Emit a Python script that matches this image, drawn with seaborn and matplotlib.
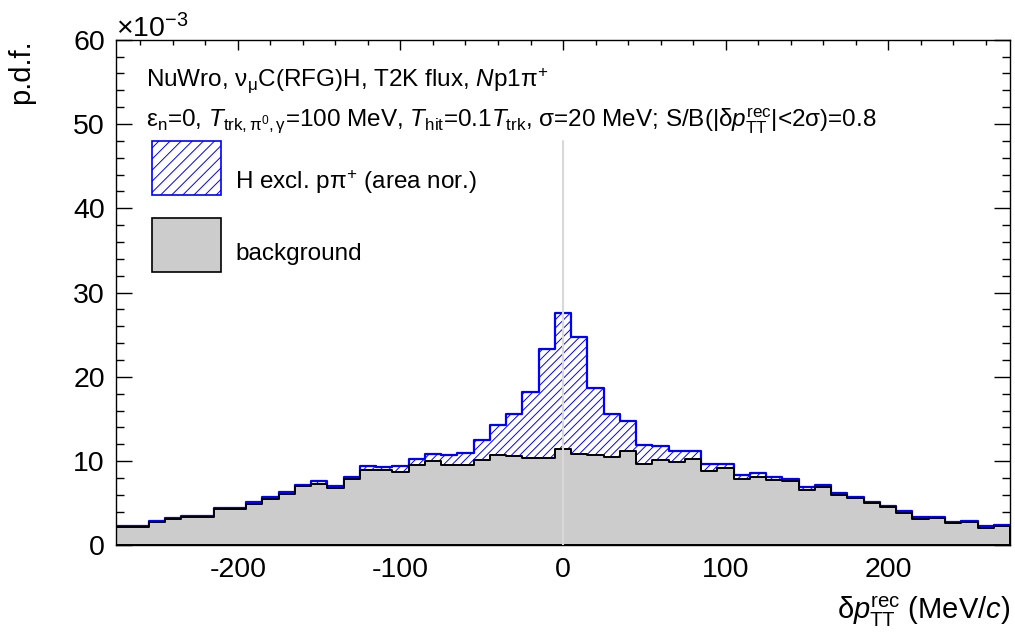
import numpy as np
import pandas as pd
import seaborn as sns
import matplotlib.pyplot as plt
from matplotlib.patches import Rectangle
from matplotlib.ticker import MultipleLocator

# bin centres of delta p_TT^rec (MeV/c), 10 MeV/c bins from -275 to 275
centers = np.arange(-270, 271, 10)

# p.d.f. values in units of 1e-3
bkg = [2.17, 2.17, 2.80, 3.10, 3.36, 3.36, 4.30, 4.30, 4.94, 5.57,
       6.13, 7.04, 7.35, 6.84, 7.87, 8.90, 8.90, 8.77, 9.50, 10.04,
       9.57, 9.57, 10.10, 10.75, 10.67, 10.43, 10.43, 11.46, 10.90, 10.75,
       10.55, 11.20, 9.72, 10.15, 9.88, 10.28, 8.83, 9.17, 7.87, 8.15,
       7.78, 7.62, 6.60, 6.90, 6.03, 5.60, 4.98, 4.58, 3.87, 3.12,
       3.20, 2.69, 2.80, 2.10, 2.29]
h_excl = [0.12, 0.12, 0.10, 0.10, 0.14, 0.08, 0.17, 0.13, 0.20, 0.20,
          0.17, 0.11, 0.28, 0.20, 0.23, 0.50, 0.40, 0.63, 0.70, 0.83,
          1.18, 1.38, 2.40, 3.52, 4.93, 7.83, 12.93, 16.09, 13.80, 7.95,
          5.05, 3.60, 2.23, 1.65, 1.32, 0.92, 0.89, 0.55, 0.51, 0.43,
          0.32, 0.25, 0.28, 0.22, 0.22, 0.20, 0.16, 0.16, 0.20, 0.20,
          0.20, 0.11, 0.16, 0.15, 0.08]

df = pd.DataFrame({'x': centers, 'bkg': bkg, 'h': h_excl})
df['stack'] = df['bkg'] + df['h']

sns.set_theme(style='ticks')
plt.rcParams['font.family'] = ['Liberation Sans', 'DejaVu Sans']
plt.rcParams['mathtext.fontset'] = 'custom'
plt.rcParams['mathtext.rm'] = 'Liberation Sans'
plt.rcParams['mathtext.it'] = 'Liberation Sans:italic'
plt.rcParams['mathtext.bf'] = 'Liberation Sans:bold'
plt.rcParams['mathtext.sf'] = 'Liberation Sans'
plt.rcParams['axes.unicode_minus'] = False
plt.rcParams['hatch.linewidth'] = 0.7
plt.rcParams['text.color'] = 'black'
plt.rcParams['axes.labelcolor'] = 'black'

fig = plt.figure(figsize=(10.15, 6.35), dpi=100)
ax = fig.add_axes([0.1143, 0.141, 0.8808, 0.7965])

# stacked: H on top of background
sns.histplot(data=df, x='x', weights='stack', binwidth=10, binrange=(-275, 275),
             element='step', fill=True, facecolor='white', edgecolor='#0000ff',
             hatch='////', linewidth=1.6, ax=ax)
sns.histplot(data=df, x='x', weights='bkg', binwidth=10, binrange=(-275, 275),
             element='step', fill=True, facecolor='#cccccc', edgecolor='black',
             linewidth=1.4, ax=ax)
ax.axvline(0, ymax=48 / 60, color='#d8d8d8', lw=1.5, zorder=5)

ax.set_xlim(-275, 275)
ax.set_ylim(0, 60)
ax.xaxis.set_major_locator(MultipleLocator(100))
ax.xaxis.set_minor_locator(MultipleLocator(20))
ax.yaxis.set_major_locator(MultipleLocator(10))
ax.yaxis.set_minor_locator(MultipleLocator(2))
ax.tick_params(which='both', direction='in', top=True, right=True,
               colors='black', width=1)
ax.tick_params(axis='x', which='major', length=7, labelsize=20.5, pad=8)
ax.tick_params(axis='x', which='minor', length=3.5)
ax.tick_params(axis='y', which='major', length=11.5, labelsize=20.5, pad=8)
ax.tick_params(axis='y', which='minor', length=5.8)
for s in ax.spines.values():
    s.set_color('black')
    s.set_linewidth(1)

ax.set_xlabel(r'$\mathrm{\delta}p_{\mathrm{TT}}^{\mathrm{rec}}$ (MeV/$c$)',
              fontsize=21, ha='right')
ax.xaxis.set_label_coords(1.0, -0.098)
ax.set_ylabel('p.d.f.', fontsize=21, ha='right')
ax.yaxis.set_label_coords(-0.09, 1.0)
ax.text(0.0, 1.005, r'×10$^{\mathrm{-3}}$', transform=ax.transAxes,
        fontsize=20.5, ha='left', va='baseline')

ax.text(0.0336, 0.9065,
        r'NuWro, $\mathrm{\nu_{\mu}}$C(RFG)H, T2K flux, $N$p1$\mathrm{\pi^{+}}$',
        transform=ax.transAxes, fontsize=17.5, va='baseline')
ax.text(0.0336, 0.8275,
        r'$\mathrm{\epsilon_{n}}$=0, $T_{\mathrm{trk,\pi^{0},\gamma}}$=100 MeV, '
        r'$T_{\mathrm{hit}}$=0.1$T_{\mathrm{trk}}$, σ=20 MeV; '
        r'S/B(|δ$p_{\mathrm{TT}}^{\mathrm{rec}}$|<2σ)=0.8',
        transform=ax.transAxes, fontsize=17.5, va='baseline')

# legend drawn by hand, ROOT style
ax.add_patch(Rectangle((0.0403, 0.692), 0.0766, 0.1078, transform=ax.transAxes,
                       facecolor='white', edgecolor='#0000ff', hatch='///', lw=1.2))
ax.text(0.1331, 0.705, r'H excl. p$\mathrm{\pi^{+}}$ (area nor.)',
        transform=ax.transAxes, fontsize=17.5, va='baseline')
ax.add_patch(Rectangle((0.0403, 0.5407), 0.0766, 0.1068, transform=ax.transAxes,
                       facecolor='#cccccc', edgecolor='black', lw=1.2))
ax.text(0.1331, 0.5635, 'background', transform=ax.transAxes, fontsize=17.5,
        va='baseline')

fig.savefig('out.png', dpi=100)
